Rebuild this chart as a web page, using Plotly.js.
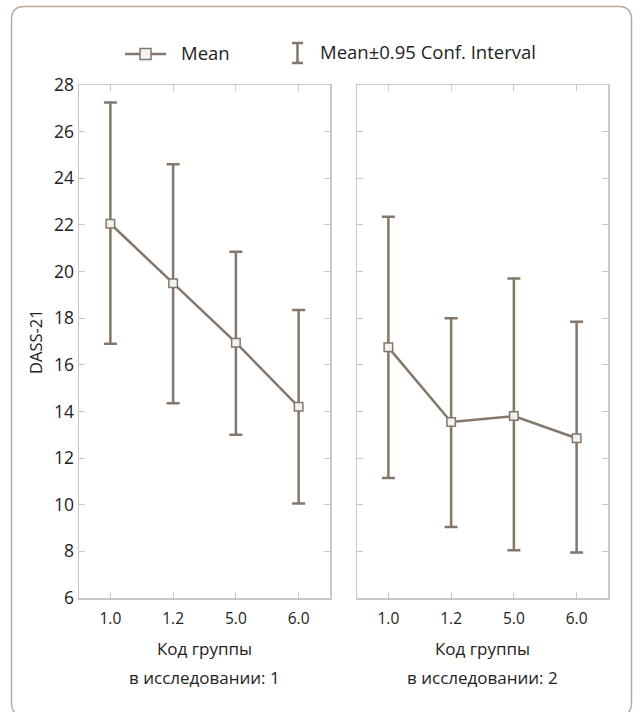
<!DOCTYPE html>
<html>
<head>
<meta charset="utf-8">
<script src="https://cdn.plot.ly/plotly-3.0.1.min.js"></script>
<style>
html,body{margin:0;padding:0;background:#fff;}
#chart{width:633px;height:712px;}
</style>
</head>
<body>
<div id="chart"></div>
<script>
// ---- data ----
const groups = ['1.0', '1.2', '5.0', '6.0'];
const mean1  = [22.05, 19.50, 16.95, 14.20];
const upper1 = [27.25, 24.60, 20.85, 18.35];
const lower1 = [16.90, 14.35, 13.00, 10.05];
const mean2  = [16.75, 13.55, 13.80, 12.85];
const upper2 = [22.35, 18.00, 19.70, 17.85];
const lower2 = [11.15,  9.05,  8.05,  7.95];
const yTicks = [6, 8, 10, 12, 14, 16, 18, 20, 22, 24, 26, 28];
const panelTitle1 = ['Код группы', 'в исследовании: 1'];
const panelTitle2 = ['Код группы', 'в исследовании: 2'];
const yTitle = 'DASS-21';
const legendLabels = ['Mean', 'Mean±0.95 Conf. Interval'];

// ---- style ----
const W = 633, H = 712;
const brown = '#85766a';
const frame = '#c8c8c8';
const txt = '#222222';
const FONT = 'Open Sans, Noto Sans, sans-serif';
const px = x => x / W;
const py = y => 1 - y / H;

function trace(mean, up, lo, xa, ya) {
  return {
    type: 'scatter', mode: 'lines+markers',
    x: groups, y: mean, xaxis: xa, yaxis: ya,
    line: {color: brown, width: 2.5},
    marker: {symbol: 'square', size: 8.5, color: '#f4f2f0', line: {color: brown, width: 1.5}},
    error_y: {type: 'data', symmetric: false,
      array: up.map((u, i) => u - mean[i]),
      arrayminus: lo.map((l, i) => mean[i] - l),
      color: brown, thickness: 2.5, width: 6.5},
    showlegend: false, hoverinfo: 'skip'
  };
}

const data = [trace(mean1, upper1, lower1, 'x', 'y'), trace(mean2, upper2, lower2, 'x2', 'y2')];

const xBase = {
  type: 'category', range: [-0.5, 3.5], showgrid: false, zeroline: false,
  showline: true, linecolor: frame, linewidth: 1.5, mirror: 'ticks',
  ticks: 'inside', ticklen: 6, tickcolor: frame, tickwidth: 1,
  ticklabelstandoff: 6,
  tickfont: {family: FONT, size: 15.5, color: txt}, fixedrange: true
};
const yBase = {
  range: [6, 28], tickvals: yTicks, showgrid: false, zeroline: false,
  showline: true, linecolor: frame, linewidth: 1.5, mirror: 'ticks',
  ticks: 'inside', ticklen: 6, tickcolor: frame, tickwidth: 1,
  tickfont: {family: FONT, size: 17.5, color: txt}, fixedrange: true
};

function ann(text, x, y, size, extra) {
  return Object.assign({text: text, xref: 'paper', yref: 'paper', x: px(x), y: py(y),
    xanchor: 'center', yanchor: 'middle', showarrow: false,
    font: {family: FONT, size: size, color: txt}}, extra || {});
}

// outer rounded frame (bottom edge falls just below the picture)
const L = 11.5, R = 631.5, T = 6.5, B = 716, RAD = 13;
const framePath =
  'M ' + px(L) + ' ' + py(B - RAD) + ' L ' + px(L) + ' ' + py(T + RAD) +
  ' Q ' + px(L) + ' ' + py(T) + ' ' + px(L + RAD) + ' ' + py(T) +
  ' L ' + px(R - RAD) + ' ' + py(T) +
  ' Q ' + px(R) + ' ' + py(T) + ' ' + px(R) + ' ' + py(T + RAD) +
  ' L ' + px(R) + ' ' + py(B - RAD) +
  ' Q ' + px(R) + ' ' + py(B) + ' ' + px(R - RAD) + ' ' + py(B) +
  ' L ' + px(L + RAD) + ' ' + py(B) +
  ' Q ' + px(L) + ' ' + py(B) + ' ' + px(L) + ' ' + py(B - RAD) + ' Z';

const layout = {
  width: W, height: H,
  margin: {l: 0, r: 0, t: 0, b: 0},
  paper_bgcolor: '#ffffff', plot_bgcolor: '#ffffff',
  font: {family: FONT, color: txt},
  showlegend: false,
  xaxis: Object.assign({}, xBase, {domain: [px(79), px(330)], anchor: 'y'}),
  xaxis2: Object.assign({}, xBase, {domain: [px(357), px(608)], anchor: 'y2'}),
  yaxis: Object.assign({}, yBase, {domain: [py(598), py(85)], anchor: 'x'}),
  yaxis2: Object.assign({}, yBase, {domain: [py(598), py(85)], anchor: 'x2', showticklabels: false}),
  shapes: [
    {type: 'path', xref: 'paper', yref: 'paper', path: framePath,
     line: {color: '#c0a898', width: 1.5}},
    // legend: mean icon
    {type: 'line', xref: 'paper', yref: 'paper', x0: px(125), x1: px(166), y0: py(54), y1: py(54),
     line: {color: brown, width: 2.5}},
    {type: 'rect', xref: 'paper', yref: 'paper', x0: px(140), x1: px(151), y0: py(59.5), y1: py(48.5),
     fillcolor: '#f4f2f0', line: {color: brown, width: 1.5}},
    // legend: CI icon
    {type: 'line', xref: 'paper', yref: 'paper', x0: px(297.5), x1: px(297.5), y0: py(43), y1: py(63),
     line: {color: brown, width: 2.5}},
    {type: 'line', xref: 'paper', yref: 'paper', x0: px(292), x1: px(303), y0: py(43), y1: py(43),
     line: {color: brown, width: 2.5}},
    {type: 'line', xref: 'paper', yref: 'paper', x0: px(292), x1: px(303), y0: py(63), y1: py(63),
     line: {color: brown, width: 2.5}}
  ],
  annotations: [
    ann(legendLabels[0], 179, 53, 18.5, {xanchor: 'left'}),
    ann(legendLabels[1], 318, 52, 18.5, {xanchor: 'left'}),
    ann(yTitle, 35, 342, 16.5, {textangle: -90}),
    ann(panelTitle1[0], 204.5, 648, 17),
    ann(panelTitle1[1], 204.5, 677, 17),
    ann(panelTitle2[0], 482.5, 648, 17),
    ann(panelTitle2[1], 482.5, 677, 17)
  ]
};

Plotly.newPlot('chart', data, layout, {staticPlot: true, displayModeBar: false});
</script>
</body>
</html>
